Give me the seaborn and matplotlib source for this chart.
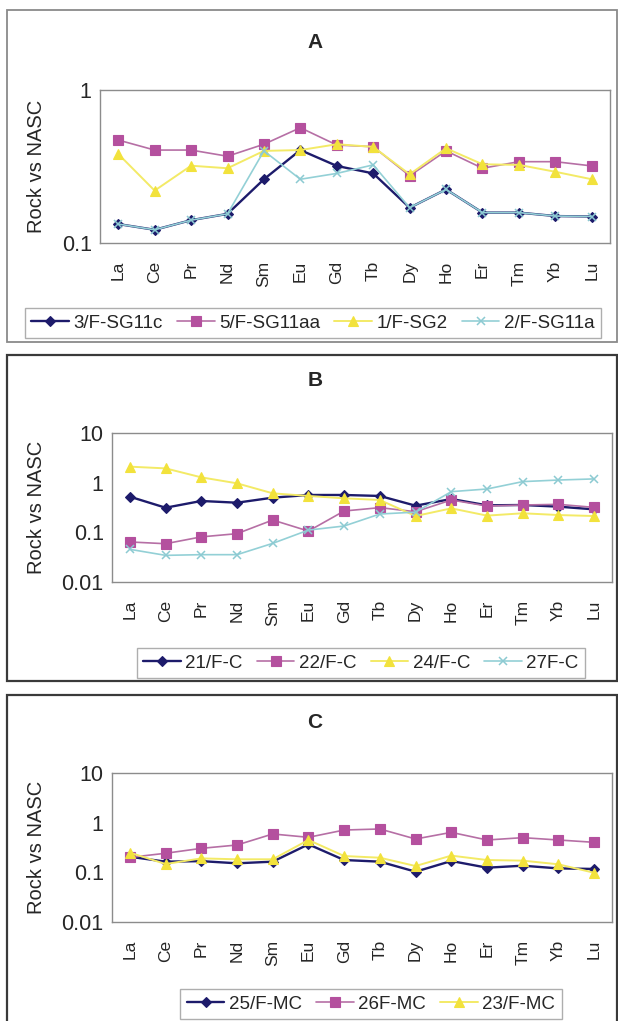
import numpy as np
import pandas as pd
import matplotlib
matplotlib.use("Agg")
import matplotlib.pyplot as plt
import seaborn as sns
from matplotlib.patches import Rectangle
from matplotlib.ticker import FixedLocator, FixedFormatter, LogLocator, NullLocator, NullFormatter

# ---------------- data ----------------
elements = ["La", "Ce", "Pr", "Nd", "Sm", "Eu", "Gd", "Tb", "Dy", "Ho", "Er", "Tm", "Yb", "Lu"]

# Panel A
a_labels = ["3/F-SG11c", "5/F-SG11aa", "1/F-SG2", "2/F-SG11a"]
a_3f_sg11c = [0.133, 0.122, 0.141, 0.155, 0.261, 0.405, 0.319, 0.285, 0.170, 0.224, 0.158, 0.158, 0.150, 0.149]
a_5f_sg11aa = [0.471, 0.405, 0.405, 0.369, 0.442, 0.567, 0.437, 0.426, 0.275, 0.400, 0.308, 0.340, 0.340, 0.319]
a_1f_sg2 = [0.382, 0.220, 0.320, 0.308, 0.400, 0.405, 0.442, 0.425, 0.281, 0.416, 0.327, 0.324, 0.292, 0.261]
a_2f_sg11a = [0.133, 0.122, 0.141, 0.155, 0.400, 0.261, 0.285, 0.324, 0.170, 0.224, 0.158, 0.158, 0.150, 0.149]

# Panel B
b_labels = ["21/F-C", "22/F-C", "24/F-C", "27F-C"]
b_21f_c = [0.522, 0.313, 0.428, 0.395, 0.499, 0.565, 0.565, 0.540, 0.344, 0.469, 0.350, 0.355, 0.329, 0.290]
b_22f_c = [0.064, 0.059, 0.081, 0.094, 0.177, 0.106, 0.269, 0.314, 0.260, 0.448, 0.339, 0.355, 0.366, 0.318]
b_24f_c = [2.10, 1.94, 1.28, 0.97, 0.61, 0.54, 0.484, 0.448, 0.213, 0.304, 0.217, 0.242, 0.223, 0.213]
b_27f_c = [0.0455, 0.0344, 0.0355, 0.0355, 0.060, 0.111, 0.134, 0.234, 0.255, 0.659, 0.746, 1.05, 1.13, 1.19]

# Panel C
c_labels = ["25/F-MC", "26F-MC", "23/F-MC"]
c_25f_mc = [0.206, 0.164, 0.168, 0.152, 0.164, 0.366, 0.177, 0.164, 0.103, 0.169, 0.124, 0.136, 0.120, 0.117]
c_26f_mc = [0.200, 0.242, 0.304, 0.355, 0.592, 0.507, 0.711, 0.746, 0.469, 0.638, 0.448, 0.499, 0.448, 0.402]
c_23f_mc = [0.249, 0.147, 0.191, 0.183, 0.183, 0.448, 0.213, 0.197, 0.134, 0.217, 0.177, 0.172, 0.145, 0.098]

# ---------------- styles ----------------
NAVY = dict(line="#1d1b6b", lw=1.7, marker="D", ms=4.8, face="#1d1b6b", edge="#1d1b6b", mew=0.8)
MAG = dict(line="#b66fa5", lw=1.2, marker="s", ms=6.5, face="#b4509e", edge="#b4509e", mew=0.8)
YEL = dict(line="#f3ea66", lw=1.4, marker="^", ms=7, face="#f2e23c", edge="#f2e23c", mew=0.8)
CYA = dict(line="#93d0d6", lw=1.2, marker="x", ms=6, face="none", edge="#8ccad2", mew=1.1)

sns.set_style("white")
plt.rcParams["font.family"] = ["Liberation Sans", "DejaVu Sans"]

fig = plt.figure(figsize=(6.18, 10.21), dpi=100)

FW, FH = 618.0, 1021.0


def fx(px):
    return px / FW


def fy(py):
    return 1 - py / FH


def draw(rect, labels, series, styles, ylim, yticks, yticklabels, minor_in, leg_center, title, title_y):
    l, t, r, b = rect
    ax = fig.add_axes([fx(l), fy(b), fx(r) - fx(l), fy(t) - fy(b)])
    for lab, vals, st in zip(labels, series, styles):
        df = pd.DataFrame({"Element": elements, "Value": vals})
        sns.lineplot(data=df, x="Element", y="Value", sort=False, ax=ax, label=lab,
                     color=st["line"], lw=st["lw"], marker=st["marker"], markersize=st["ms"],
                     markerfacecolor=st["face"], markeredgecolor=st["edge"],
                     markeredgewidth=st["mew"], errorbar=None)
    ax.set_yscale("log")
    ax.set_ylim(*ylim)
    ax.set_xlim(-0.5, len(elements) - 0.5)
    ax.xaxis.set_major_locator(FixedLocator(range(len(elements))))
    ax.xaxis.set_major_formatter(FixedFormatter(elements))
    ax.xaxis.set_minor_locator(FixedLocator(np.arange(-0.5, len(elements), 1.0)))
    ax.yaxis.set_major_locator(FixedLocator(yticks))
    ax.yaxis.set_major_formatter(FixedFormatter(yticklabels))
    if minor_in:
        ax.yaxis.set_minor_locator(LogLocator(base=10, subs=np.arange(2, 10)))
        ax.yaxis.set_minor_formatter(NullFormatter())
        ax.tick_params(axis="y", which="minor", direction="in", length=3, color="#999999", width=0.8)
    else:
        ax.yaxis.set_minor_locator(NullLocator())
    ax.tick_params(axis="x", which="major", length=0, pad=13, labelsize=12.5, labelrotation=90)
    ax.tick_params(axis="x", which="minor", direction="out", length=5, color="#8a8a8a", width=0.8)
    ax.tick_params(axis="y", which="major", direction="out", length=4, color="#8a8a8a", width=0.8,
                   pad=2, labelsize=15.5)
    for sp in ax.spines.values():
        sp.set_visible(True)
        sp.set_color("#8c8c8c")
        sp.set_linewidth(1.0)
    ax.set_xlabel("")
    ax.set_ylabel("")
    fig.text(fx(37), (fy(t) + fy(b)) / 2, "Rock vs NASC", rotation=90, ha="center", va="center",
             fontsize=14.5)
    fig.text(fx(315), fy(title_y), title, ha="center", va="center", fontsize=15, fontweight="bold")
    leg = ax.legend(loc="center", bbox_to_anchor=(fx(leg_center[0]), fy(leg_center[1])),
                    bbox_transform=fig.transFigure, ncol=len(labels), frameon=True, fancybox=False,
                    edgecolor="#9a9a9a", fontsize=13.5, handlelength=2.0, handletextpad=0.25,
                    columnspacing=0.75, borderpad=0.35, borderaxespad=0)
    leg.get_frame().set_linewidth(1.0)
    return ax


draw((100, 90, 610, 243), a_labels, [a_3f_sg11c, a_5f_sg11aa, a_1f_sg2, a_2f_sg11a],
     [NAVY, MAG, YEL, CYA], (0.1, 1.0), [0.1, 1.0], ["0.1", "1"], True, (313, 323), "A", 43)

draw((112, 433, 612, 582), b_labels, [b_21f_c, b_22f_c, b_24f_c, b_27f_c],
     [NAVY, MAG, YEL, CYA], (0.01, 10.0), [0.01, 0.1, 1.0, 10.0], ["0.01", "0.1", "1", "10"], False,
     (361, 663), "B", 380)

draw((112, 773, 612, 922), c_labels, [c_25f_mc, c_26f_mc, c_23f_mc],
     [NAVY, MAG, YEL], (0.01, 10.0), [0.01, 0.1, 1.0, 10.0], ["0.01", "0.1", "1", "10"], False,
     (371, 1004), "C", 722)

# panel frames
fig.add_artist(Rectangle((fx(7), fy(342)), fx(617) - fx(7), fy(10) - fy(342), transform=fig.transFigure,
                         fill=False, ec="#8a8a8a", lw=1.3))
fig.add_artist(Rectangle((fx(7), fy(681)), fx(617) - fx(7), fy(355) - fy(681), transform=fig.transFigure,
                         fill=False, ec="#3a3a3a", lw=1.6))
fig.add_artist(Rectangle((fx(7), fy(1030)), fx(617) - fx(7), fy(695) - fy(1030), transform=fig.transFigure,
                         fill=False, ec="#3a3a3a", lw=1.6))

fig.savefig("out.png", dpi=100)
